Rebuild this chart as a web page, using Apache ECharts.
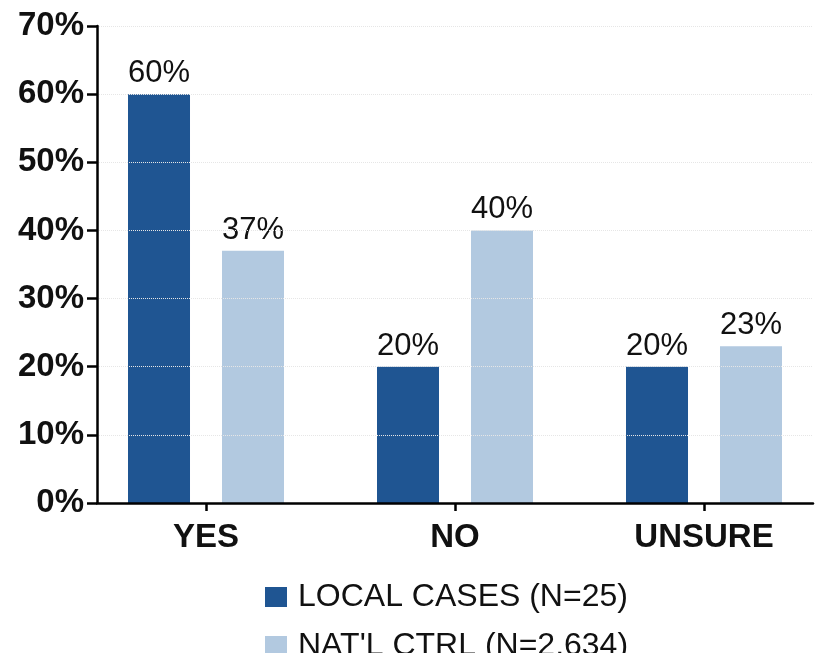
<!DOCTYPE html>
<html><head><meta charset="utf-8">
<script src="https://cdn.jsdelivr.net/npm/echarts@6/dist/echarts.min.js"></script>
<style>html,body{margin:0;padding:0;background:#fff}#c{width:821px;height:653px}</style>
</head><body><div id="c"></div>
<script>
const categories = ['YES', 'NO', 'UNSURE'];
const localCases = [60, 20, 20];
const natlCtrl = [37, 40, 23];
const seriesNames = ['LOCAL CASES (N=25)', "NAT'L CTRL (N=2,634)"];
const yTicks = [0, 10, 20, 30, 40, 50, 60, 70];

const FONT = 'Liberation Sans, Arial, sans-serif';
const chart = echarts.init(document.getElementById('c'));
const labelCfg = {show: true, position: 'top', distance: 5, fontSize: 31, color: '#111', fontFamily: FONT, formatter: '{c}%'};
const legendBase = {
  orient: 'horizontal', left: 265, padding: 0, itemWidth: 22, itemHeight: 20, icon: 'rect',
  textStyle: {fontSize: 32, lineHeight: 24, color: '#111', fontFamily: FONT, padding: [0, 0, 0, 6]}
};
chart.setOption({
  animation: false,
  textStyle: {fontFamily: FONT},
  grid: [
    {left: 81.5, right: -7.5, top: 26, bottom: 150, outerBoundsMode: 'none', containLabel: false},
    {left: 97, right: 8, top: 26, bottom: 150, outerBoundsMode: 'none', containLabel: false}
  ],
  xAxis: [
    {type: 'category', gridIndex: 0, data: categories,
     axisLine: {show: false},
     axisTick: {show: true, alignWithLabel: true, length: 8, lineStyle: {color: '#000', width: 2.5}},
     axisLabel: {fontSize: 33, fontWeight: 'bold', color: '#111', margin: 18, fontFamily: FONT}},
    {type: 'value', gridIndex: 1, min: 0, max: 1, z: 5,
     axisLine: {show: true, lineStyle: {color: '#000', width: 2.5}},
     axisTick: {show: false}, axisLabel: {show: false}, splitLine: {show: false}}
  ],
  yAxis: [
    {type: 'value', gridIndex: 0, min: yTicks[0], max: yTicks[yTicks.length - 1], show: false, splitLine: {show: false}},
    {type: 'value', gridIndex: 1, min: yTicks[0], max: yTicks[yTicks.length - 1], interval: 10, z: 5,
     axisLine: {show: true, lineStyle: {color: '#000', width: 2.5}},
     axisTick: {show: true, length: 10, lineStyle: {color: '#000', width: 2.5}},
     axisLabel: {fontSize: 33, fontWeight: 'bold', color: '#111', margin: 13, formatter: '{value}%', fontFamily: FONT},
     splitLine: {show: true, lineStyle: {color: '#e6e6e6', type: 'dotted', width: 1}}}
  ],
  legend: [
    Object.assign({}, legendBase, {top: 581, data: [seriesNames[0]]}),
    Object.assign({}, legendBase, {top: 630, data: [seriesNames[1]]})
  ],
  series: [
    {name: seriesNames[0], type: 'bar', xAxisIndex: 0, yAxisIndex: 0, data: localCases,
     barWidth: 62, barGap: '51.6%', itemStyle: {color: '#1f5592'}, label: labelCfg},
    {name: seriesNames[1], type: 'bar', xAxisIndex: 0, yAxisIndex: 0, data: natlCtrl,
     barWidth: 62, barGap: '51.6%', itemStyle: {color: '#b2c9e0'}, label: labelCfg}
  ]
});
</script></body></html>
